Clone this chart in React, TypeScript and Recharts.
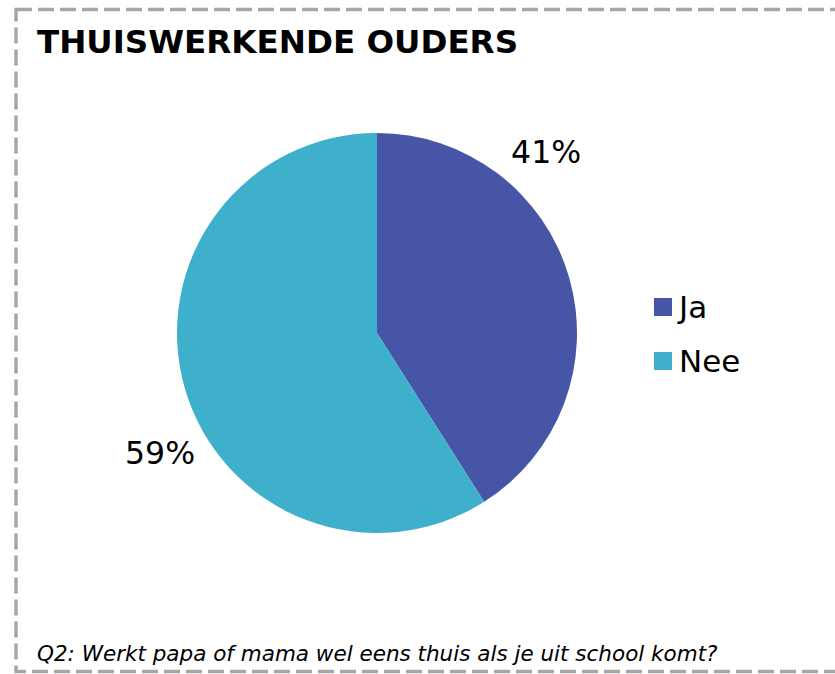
import { Cell, Legend, Pie, PieChart } from "recharts"

const categories = ["Ja", "Nee"]
const shares = [41, 59]
const sliceColors = ["#4655A5", "#3EB0CC"]

// Excel placed the percentage labels away from the slice middle
const labelAngleShift = [30.8, 12.8]

const data = categories.map((name, i) => ({ name, value: shares[i] }))

const FONT = "'DejaVu Sans', Verdana, sans-serif"
const RADIAN = Math.PI / 180

const renderLabel = (props: any) => {
    const { cx, cy, midAngle, outerRadius, index, value } = props
    const angle = (midAngle + labelAngleShift[index]) * RADIAN
    const r = outerRadius + 48
    const x = cx + r * Math.cos(angle)
    const y = cy - r * Math.sin(angle)
    return (
        <text x={x} y={y} textAnchor="middle" dominantBaseline="central" fontSize={31.5} fontFamily={FONT} fill="#000">
            {value}%
        </text>
    )
}

const renderLegend = () => (
    <div style={{ fontFamily: FONT, fontSize: 31, color: "#000" }}>
        {categories.map((c, i) => (
            <div key={c} style={{ display: "flex", alignItems: "center", height: 54 }}>
                <span style={{ width: 18, height: 18, background: sliceColors[i], marginRight: 7, display: "inline-block" }} />
                <span>{c}</span>
            </div>
        ))}
    </div>
)

const App = () => {
    return (
        <div style={{ position: "absolute", left: 0, top: 0, width: 835, height: 674, background: "#fff" }}>
            <style>{`body{margin:0}`}</style>
            <svg width={835} height={674} style={{ position: "absolute", left: 0, top: 0 }}>
                <rect x={16} y={9.5} width={840} height={662} fill="none" stroke="#A6A6A6" strokeWidth={3.5} strokeDasharray="16 6" />
                <text x={37} y={53} fontFamily={FONT} fontWeight="bold" fontSize={32.5} fill="#000">
                    THUISWERKENDE OUDERS
                </text>
                <text x={37} y={661} fontFamily={FONT} fontStyle="italic" fontSize={21.5} fill="#000">
                    Q2: Werkt papa of mama wel eens thuis als je uit school komt?
                </text>
            </svg>
            <div style={{ position: "absolute", left: 0, top: 0 }}>
                <PieChart width={835} height={674} margin={{ top: 0, right: 0, bottom: 0, left: 0 }}>
                    <Pie
                        data={data}
                        dataKey="value"
                        nameKey="name"
                        cx={377}
                        cy={333}
                        outerRadius={200}
                        startAngle={90}
                        endAngle={-270}
                        stroke="none"
                        label={renderLabel}
                        labelLine={false}
                        isAnimationActive={false}
                    >
                        {data.map((d, i) => (
                            <Cell key={d.name} fill={sliceColors[i]} />
                        ))}
                    </Pie>
                    <Legend content={renderLegend} wrapperStyle={{ left: 654, top: 280, width: 160 }} />
                </PieChart>
            </div>
        </div>
    )
}

export default App
